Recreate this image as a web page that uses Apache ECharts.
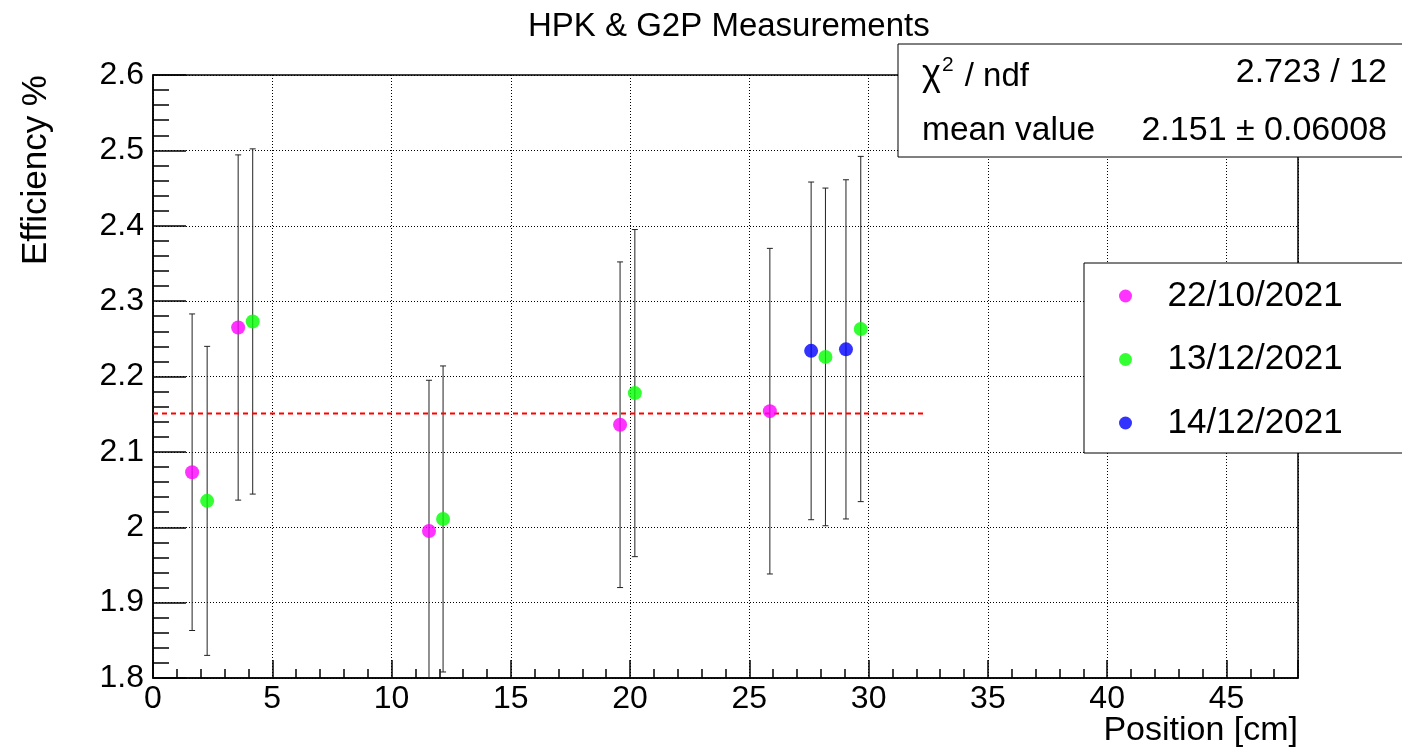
<!DOCTYPE html>
<html>
<head>
<meta charset="utf-8">
<script src="https://cdn.jsdelivr.net/npm/echarts@6/dist/echarts.min.js"></script>
<style>
html,body{margin:0;padding:0;background:#fff;}
#chart{width:1402px;height:752px;}
</style>
</head>
<body>
<div id="chart"></div>
<script>
// ---- data ----
const seriesNames = ['22/10/2021', '13/12/2021', '14/12/2021'];
const seriesColors = ['#ff00ff', '#00ff00', '#0000ff'];

const posA = [1.64, 3.57, 11.57, 19.58, 25.86];
const effA = [2.073, 2.265, 1.995, 2.136, 2.154];
const errA = [0.210, 0.229, 0.200, 0.216, 0.216];

const posB = [2.27, 4.18, 12.16, 20.20, 28.19, 29.67];
const effB = [2.035, 2.273, 2.011, 2.178, 2.226, 2.263];
const errB = [0.205, 0.229, 0.203, 0.217, 0.224, 0.229];

const posC = [27.59, 29.05];
const effC = [2.234, 2.236];
const errC = [0.224, 0.225];

const fitMean = 2.151;
const fitRange = [0, 32.3];
const statsValues = ['2.723 / 12', '2.151 ± 0.06008'];

const chartTitle = 'HPK & G2P Measurements';
const xTitle = 'Position [cm]';
const yTitle = 'Efficiency %';

// ---- build ----
const FONT = '"Liberation Sans", Arial, Helvetica, sans-serif';
const groups = [
  {name: seriesNames[0], color: seriesColors[0], x: posA, y: effA, e: errA},
  {name: seriesNames[1], color: seriesColors[1], x: posB, y: effB, e: errB},
  {name: seriesNames[2], color: seriesColors[2], x: posC, y: effC, e: errC}
];

function renderErr(params, api) {
  const cs = params.coordSys;
  const x = api.value(0), y = api.value(1), e = api.value(2);
  const top = api.coord([x, y + e]);
  const bot = api.coord([x, y - e]);
  const yMin = cs.y, yMax = cs.y + cs.height;
  const cap = 3;
  const st = {stroke: '#222', lineWidth: 1};
  const children = [];
  const t = Math.max(top[1], yMin), b = Math.min(bot[1], yMax);
  children.push({type: 'line', shape: {x1: top[0], y1: t, x2: bot[0], y2: b}, style: st});
  if (top[1] >= yMin) children.push({type: 'line', shape: {x1: top[0] - cap, y1: top[1], x2: top[0] + cap, y2: top[1]}, style: st});
  if (bot[1] <= yMax) children.push({type: 'line', shape: {x1: bot[0] - cap, y1: bot[1], x2: bot[0] + cap, y2: bot[1]}, style: st});
  return {type: 'group', children: children};
}

const series = [];
groups.forEach(function (g) {
  series.push({
    type: 'custom',
    name: g.name + ' err',
    renderItem: renderErr,
    data: g.x.map(function (v, i) { return [v, g.y[i], g.e[i]]; }),
    encode: {x: 0, y: 1},
    z: 3,
    silent: true
  });
});
series.push({
  type: 'line',
  name: 'fit',
  data: [[fitRange[0], fitMean], [fitRange[1], fitMean]],
  showSymbol: false,
  symbol: 'none',
  lineStyle: {color: '#ff0000', width: 2, type: [5, 4]},
  z: 4,
  silent: true
});
groups.forEach(function (g) {
  series.push({
    type: 'scatter',
    name: g.name,
    data: g.x.map(function (v, i) { return [v, g.y[i]]; }),
    symbol: 'circle',
    symbolSize: 14,
    itemStyle: {color: g.color},
    z: 5
  });
});

const chart = echarts.init(document.getElementById('chart'), null, {renderer: 'canvas'});
chart.setOption({
  animation: false,
  backgroundColor: '#fff',
  textStyle: {fontFamily: FONT},
  title: {
    text: chartTitle,
    left: 523,
    top: 5,
    textStyle: {fontFamily: FONT, fontSize: 33, fontWeight: 'normal', color: '#000'}
  },
  grid: {
    left: 153, right: 104, top: 75, bottom: 74,
    show: true, borderColor: '#000', borderWidth: 1.5, backgroundColor: 'transparent',
    containLabel: false,
    outerBoundsMode: 'none'
  },
  legend: {
    data: seriesNames,
    orient: 'vertical',
    left: 1084,
    top: 263,
    icon: 'circle',
    itemWidth: 74,
    itemHeight: 13,
    itemGap: 23.5,
    padding: [13, 120, 10, 35],
    backgroundColor: '#fff',
    borderColor: '#000',
    borderWidth: 1,
    textStyle: {fontFamily: FONT, fontSize: 35, color: '#000', lineHeight: 40},
    selectedMode: false,
    z: 10
  },
  xAxis: {
    type: 'value',
    min: 0,
    max: 48,
    interval: 5,
    axisLine: {show: true, onZero: false, lineStyle: {color: '#000', width: 1.5}},
    axisTick: {show: true, inside: true, length: 18, lineStyle: {color: '#000', width: 1.5}},
    minorTick: {show: true, splitNumber: 5, length: 9, lineStyle: {color: '#000', width: 1.5}},
    axisLabel: {
      show: true, margin: 5, color: '#000', fontFamily: FONT, fontSize: 32,
      formatter: function (v) { return (Math.abs(v % 5) < 1e-9) ? String(v) : ''; }
    },
    splitLine: {show: true, lineStyle: {color: '#000', width: 1, type: [1, 2]}},
    minorSplitLine: {show: false}
  },
  yAxis: {
    type: 'value',
    min: 1.8,
    max: 2.6,
    interval: 0.1,
    axisLine: {show: true, onZero: false, lineStyle: {color: '#000', width: 1.5}},
    axisTick: {show: true, inside: true, length: 33, lineStyle: {color: '#000', width: 1.5}},
    minorTick: {show: true, splitNumber: 5, length: 16, lineStyle: {color: '#000', width: 1.5}},
    axisLabel: {
      show: true, margin: 9, color: '#000', fontFamily: FONT, fontSize: 32,
      formatter: function (v) { return String(Math.round(v * 10) / 10); }
    },
    splitLine: {show: true, lineStyle: {color: '#000', width: 1, type: [1, 2]}},
    minorSplitLine: {show: false}
  },
  graphic: [
    {
      type: 'text', x: 36, y: 170, rotation: Math.PI / 2,
      style: {text: yTitle, font: '35px ' + FONT, fill: '#000', textAlign: 'center', textVerticalAlign: 'middle'},
      z: 20
    },
    {
      type: 'text', x: 1298, y: 731,
      style: {text: xTitle, font: '34px ' + FONT, fill: '#000', textAlign: 'right', textVerticalAlign: 'middle'},
      z: 20
    },
    {
      type: 'group', x: 0, y: 0, z: 30,
      children: [
        {type: 'rect', shape: {x: 898, y: 44, width: 600, height: 113},
         style: {fill: '#fff', stroke: '#000', lineWidth: 1}, z: 30},
        {type: 'text', x: 922, y: 73, z: 31,
         style: {
           text: '{c|χ}{s|2}{n| / ndf}',
           textAlign: 'left', textVerticalAlign: 'middle',
           rich: {
             c: {fontFamily: FONT, fontSize: 36, fill: '#000', verticalAlign: 'bottom', lineHeight: 40},
             s: {fontFamily: FONT, fontSize: 21, fill: '#000', verticalAlign: 'top', lineHeight: 40, padding: [2, 2, 0, 1]},
             n: {fontFamily: FONT, fontSize: 33, fill: '#000', verticalAlign: 'bottom', lineHeight: 40}
           }
         }},
        {type: 'text', x: 1387, y: 73, z: 31,
         style: {text: statsValues[0], font: '34px ' + FONT, fill: '#000', textAlign: 'right', textVerticalAlign: 'middle'}},
        {type: 'text', x: 922, y: 131, z: 31,
         style: {text: 'mean value', font: '33.5px ' + FONT, fill: '#000', textAlign: 'left', textVerticalAlign: 'middle'}},
        {type: 'text', x: 1387, y: 131, z: 31,
         style: {text: statsValues[1], font: '34px ' + FONT, fill: '#000', textAlign: 'right', textVerticalAlign: 'middle'}}
      ]
    }
  ],
  series: series
});
</script>
</body>
</html>
